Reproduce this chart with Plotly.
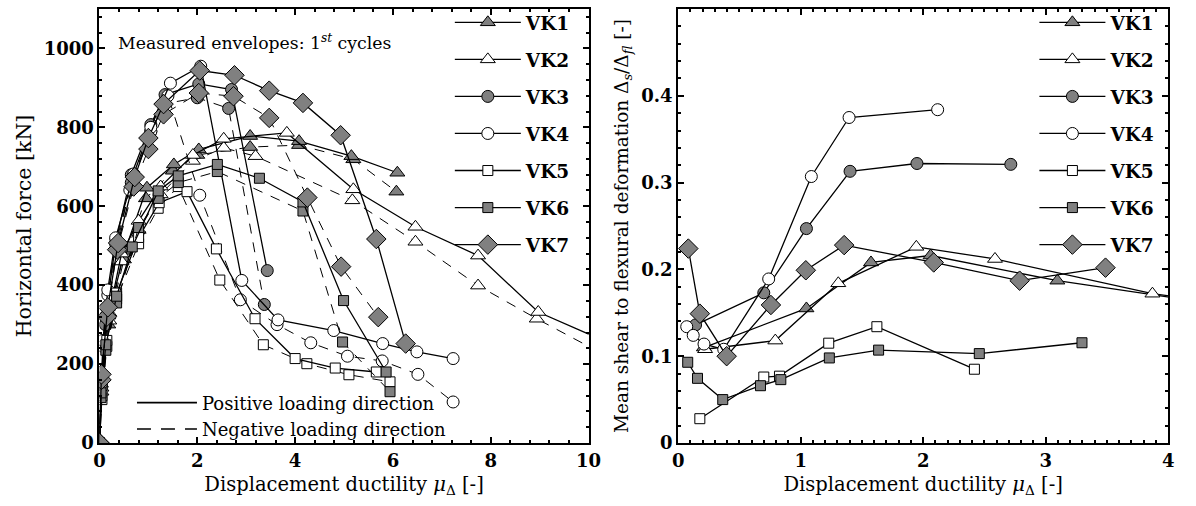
import plotly.graph_objects as go

# ---------------- Left panel: measured envelopes (1st cycles) ----------------
names = ["VK1", "VK2", "VK3", "VK4", "VK5", "VK6", "VK7"]

vk1_pos_mu = [0, 0.03, 0.18, 0.52, 0.97, 1.52, 2.03, 3.08, 4.08, 5.15, 6.09]
vk1_pos_F = [0, 167, 323, 487, 647, 706, 744, 778, 765, 727, 685]
vk1_neg_mu = [0, 0.03, 0.18, 0.50, 0.95, 1.50, 2.00, 3.08, 4.08, 5.19, 6.07]
vk1_neg_F = [0, 150, 300, 465, 620, 690, 730, 750, 755, 719, 637]

vk2_pos_mu = [0, 0.04, 0.20, 0.45, 0.80, 1.25, 1.91, 2.54, 3.83, 5.19, 6.46, 7.74, 8.97, 10.3]
vk2_pos_F = [0, 140, 330, 480, 563, 650, 730, 771, 786, 643, 548, 475, 332, 260]
vk2_neg_mu = [0, 0.04, 0.20, 0.45, 0.80, 1.25, 1.91, 2.54, 3.19, 5.17, 6.46, 7.74, 8.94, 10.3]
vk2_neg_F = [0, 130, 310, 460, 540, 630, 715, 748, 727, 615, 510, 399, 315, 225]

vk3_pos_mu = [0, 0.04, 0.12, 0.34, 0.65, 1.05, 1.34, 2.03, 2.70, 3.43]
vk3_pos_F = [0, 150, 320, 514, 680, 807, 883, 910, 896, 437]
vk3_neg_mu = [0, 0.04, 0.12, 0.34, 0.65, 1.05, 1.34, 2.00, 2.64, 3.37]
vk3_neg_F = [0, 140, 300, 495, 660, 790, 860, 875, 848, 351]

vk4_pos_mu = [0, 0.07, 0.17, 0.33, 0.70, 1.05, 1.45, 2.07, 2.91, 3.65, 4.79, 5.79, 6.49, 7.23]
vk4_pos_F = [0, 260, 388, 520, 682, 800, 912, 955, 412, 312, 285, 252, 231, 214]
vk4_neg_mu = [0, 0.07, 0.17, 0.33, 0.62, 1.05, 1.40, 2.05, 2.88, 3.63, 4.32, 5.07, 5.78, 6.51, 7.23]
vk4_neg_F = [0, 245, 375, 505, 641, 790, 880, 628, 363, 300, 254, 220, 208, 174, 104]

vk5_pos_mu = [0, 0.05, 0.15, 0.35, 0.80, 1.22, 1.79, 2.39, 3.18, 4.00, 4.82, 5.66]
vk5_pos_F = [0, 120, 260, 380, 521, 609, 637, 492, 315, 214, 190, 180]
vk5_neg_mu = [0, 0.05, 0.15, 0.35, 0.80, 1.20, 1.61, 2.46, 3.35, 4.24, 5.10, 5.94]
vk5_neg_F = [0, 110, 245, 365, 505, 595, 650, 413, 249, 201, 173, 155]

vk6_pos_mu = [0, 0.03, 0.13, 0.35, 0.67, 1.20, 1.61, 2.41, 3.27, 4.16, 4.99, 5.86]
vk6_pos_F = [0, 127, 249, 372, 497, 639, 677, 706, 671, 611, 361, 180]
vk6_neg_mu = [0, 0.03, 0.13, 0.35, 0.80, 1.20, 1.61, 2.41, 4.16, 4.97, 5.94]
vk6_neg_F = [0, 115, 235, 355, 546, 620, 660, 688, 588, 256, 130]

vk7_pos_mu = [0, 0.04, 0.17, 0.38, 0.72, 1.00, 1.31, 2.05, 2.76, 3.47, 4.16, 4.93, 5.66, 6.26]
vk7_pos_F = [0, 174, 344, 507, 674, 773, 859, 944, 932, 893, 862, 780, 517, 252]
vk7_neg_mu = [0, 0.04, 0.15, 0.36, 0.70, 1.00, 1.31, 2.03, 2.74, 3.47, 4.25, 4.94, 5.70]
vk7_neg_F = [0, 160, 320, 490, 650, 745, 833, 887, 879, 824, 622, 447, 319]

# ---------------- Right panel: shear / flexural deformation ratio ----------------
vk1_r_mu = [0.21, 1.047, 1.574, 2.06, 3.095, 4.2]
vk1_r = [0.110, 0.155, 0.208, 0.216, 0.187, 0.164]
vk2_r_mu = [0.22, 0.793, 1.307, 1.944, 2.586, 3.871, 4.2]
vk2_r = [0.108, 0.118, 0.184, 0.226, 0.212, 0.172, 0.166]
vk3_r_mu = [0.142, 0.699, 1.047, 1.403, 1.949, 2.715]
vk3_r = [0.136, 0.173, 0.247, 0.313, 0.322, 0.321]
vk4_r_mu = [0.07, 0.123, 0.211, 0.372, 0.739, 1.087, 1.395, 2.118]
vk4_r = [0.134, 0.124, 0.114, 0.108, 0.189, 0.307, 0.375, 0.384]
vk5_r_mu = [0.177, 0.699, 0.827, 1.229, 1.622, 2.418]
vk5_r = [0.028, 0.076, 0.077, 0.115, 0.134, 0.085]
vk6_r_mu = [0.078, 0.158, 0.364, 0.672, 0.838, 1.234, 1.636, 2.458, 3.296]
vk6_r = [0.093, 0.0745, 0.050, 0.066, 0.073, 0.098, 0.107, 0.103, 0.1155]
vk7_r_mu = [0.083, 0.177, 0.396, 0.757, 1.042, 1.355, 2.086, 2.787, 3.488]
vk7_r = [0.224, 0.149, 0.100, 0.159, 0.199, 0.228, 0.208, 0.187, 0.202]

left_y_ticks = [0, 200, 400, 600, 800, 1000]
right_y_ticks = [0, 0.1, 0.2, 0.3, 0.4, 0.5]
right_y_ticktext = ["0", "0.1", "0.2", "0.3", "0.4", "0.5"]

left_pos = [(vk1_pos_mu, vk1_pos_F), (vk2_pos_mu, vk2_pos_F), (vk3_pos_mu, vk3_pos_F),
            (vk4_pos_mu, vk4_pos_F), (vk5_pos_mu, vk5_pos_F), (vk6_pos_mu, vk6_pos_F),
            (vk7_pos_mu, vk7_pos_F)]
left_neg = [(vk1_neg_mu, vk1_neg_F), (vk2_neg_mu, vk2_neg_F), (vk3_neg_mu, vk3_neg_F),
            (vk4_neg_mu, vk4_neg_F), (vk5_neg_mu, vk5_neg_F), (vk6_neg_mu, vk6_neg_F),
            (vk7_neg_mu, vk7_neg_F)]
right = [(vk1_r_mu, vk1_r), (vk2_r_mu, vk2_r), (vk3_r_mu, vk3_r), (vk4_r_mu, vk4_r),
         (vk5_r_mu, vk5_r), (vk6_r_mu, vk6_r), (vk7_r_mu, vk7_r)]

GRAY = "#808080"
styles = [
    dict(symbol="triangle-up", color=GRAY, size=13),
    dict(symbol="triangle-up", color="white", size=13),
    dict(symbol="circle", color=GRAY, size=12),
    dict(symbol="circle", color="white", size=12),
    dict(symbol="square", color="white", size=10),
    dict(symbol="square", color=GRAY, size=10),
    dict(symbol="diamond", color=GRAY, size=15),
]

FONT = "DejaVu Serif"
fig = go.Figure()

for i, name in enumerate(names):
    st = styles[i]
    mk = dict(symbol=st["symbol"], color=st["color"], size=st["size"],
              line=dict(color="black", width=1))
    xp, yp = left_pos[i]
    xn, yn = left_neg[i]
    fig.add_trace(go.Scatter(x=xn, y=yn, mode="lines+markers", name=name,
                             line=dict(color="black", width=1, dash="10px,9px"),
                             marker=mk, showlegend=False, legendgroup=name,
                             xaxis="x", yaxis="y", cliponaxis=True))
    fig.add_trace(go.Scatter(x=xp, y=yp, mode="lines+markers", name=name,
                             line=dict(color="black", width=1.3),
                             marker=mk, showlegend=True, legendgroup=name,
                             legend="legend", xaxis="x", yaxis="y", cliponaxis=True))

for i, name in enumerate(names):
    st = styles[i]
    mk = dict(symbol=st["symbol"], color=st["color"], size=st["size"],
              line=dict(color="black", width=1))
    xr, yr = right[i]
    fig.add_trace(go.Scatter(x=xr, y=yr, mode="lines+markers", name=name,
                             line=dict(color="black", width=1.3),
                             marker=mk, showlegend=True, legendgroup=name + "r",
                             legend="legend2", xaxis="x2", yaxis="y2", cliponaxis=True))

# loading-direction key
fig.add_trace(go.Scatter(x=[None], y=[None], mode="lines", name="Positive loading direction",
                         line=dict(color="black", width=1.6), legend="legend3",
                         xaxis="x", yaxis="y", legendgroup="p"))
fig.add_trace(go.Scatter(x=[None], y=[None], mode="lines", name="Negative loading direction",
                         line=dict(color="black", width=1.6, dash="14px,10px"), legend="legend3",
                         xaxis="x", yaxis="y", legendgroup="n"))

axis_common = dict(showline=True, linecolor="black", linewidth=2, mirror="allticks",
                   ticks="inside", ticklen=6, tickwidth=1.5, tickcolor="black",
                   showgrid=False, zeroline=False,
                   tickfont=dict(family=FONT, size=18, color="black", weight="bold"))

title_font = dict(family=FONT, size=19.5, color="black")
legend_font = dict(family=FONT, size=18.5, color="black", weight="bold")

fig.update_layout(
    width=1196, height=506,
    margin=dict(l=0, r=0, t=9, b=63),
    paper_bgcolor="white", plot_bgcolor="white",
    font=dict(family=FONT, color="black"),
    xaxis=dict(domain=[95 / 1196, 592 / 1196], range=[0, 10], dtick=2,
               minor=dict(dtick=0.4, ticklen=3, ticks="inside", tickcolor="black"),
               title=dict(text="Displacement ductility <i>μ</i><sub>Δ</sub> [-]", standoff=8,
                          font=title_font),
               anchor="y", **axis_common),
    yaxis=dict(domain=[0, 1], range=[0, 1100], tickmode="array", tickvals=left_y_ticks,
               minor=dict(dtick=40, tick0=0, ticklen=3, ticks="inside", tickcolor="black"),
               title=dict(text="Horizontal force [kN]", standoff=7,
                          font=dict(family=FONT, size=20.5, color="black")),
               anchor="x", **axis_common),
    xaxis2=dict(domain=[683 / 1196, 1181 / 1196], range=[0, 4], dtick=1,
                minor=dict(dtick=0.1, ticklen=3, ticks="inside", tickcolor="black"),
                title=dict(text="Displacement ductility <i>μ</i><sub>Δ</sub> [-]", standoff=8,
                           font=title_font),
                anchor="y2", **axis_common),
    yaxis2=dict(domain=[0, 1], range=[0, 0.5], tickmode="array", tickvals=right_y_ticks,
                ticktext=right_y_ticktext,
                minor=dict(dtick=0.02, tick0=0, ticklen=3, ticks="inside", tickcolor="black"),
                title=dict(text="Mean shear to flexural deformation Δ<sub><i>s</i></sub>/Δ<sub><i>fl</i></sub> [-]",
                           standoff=8, font=dict(family=FONT, size=18.5, color="black")),
                anchor="x2", **axis_common),
    legend=dict(x=451 / 1196, y=1.012, xanchor="left", yanchor="top",
                bgcolor="rgba(0,0,0,0)", borderwidth=0, tracegroupgap=10, itemwidth=66,
                maxheight=480, font=legend_font),
    legend2=dict(x=1045 / 1196, y=1.012, xanchor="left", yanchor="top",
                 bgcolor="rgba(0,0,0,0)", borderwidth=0, tracegroupgap=10, itemwidth=66,
                 maxheight=480, font=legend_font),
    legend3=dict(x=128 / 1196, y=0.135, xanchor="left", yanchor="top",
                 bgcolor="rgba(0,0,0,0)", borderwidth=0, tracegroupgap=0, itemwidth=60,
                 maxheight=200, font=dict(family=FONT, size=18, color="black")),
    annotations=[dict(text="Measured envelopes: 1<sup><i>st</i></sup> cycles",
                      xref="paper", yref="paper", x=112 / 1196, y=(443 - 42) / 434,
                      xanchor="left", yanchor="middle", showarrow=False,
                      font=dict(family=FONT, size=17.3, color="black"))],
)

fig.write_html("out.html")
